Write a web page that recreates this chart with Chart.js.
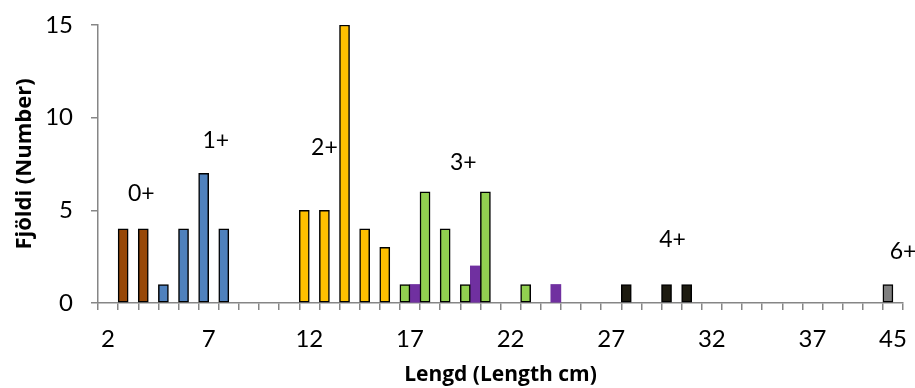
<!DOCTYPE html>
<html>
<head>
<meta charset="utf-8">
<script src="https://cdn.jsdelivr.net/npm/chart.js@4/dist/chart.umd.min.js"></script>
<style>
  body { margin: 0; background: #fff; }
  canvas { display: block; }
</style>
</head>
<body>
<canvas id="chart" width="915" height="388"></canvas>
<script>
// lengd (cm) - categories on the x axis
const lengths = ['2', '3', '4', '5', '6', '7', '8', '9', '10', '11', '12', '13', '14', '15', '16', '17',
    '18', '19', '20', '21', '22', '23', '24', '25', '26', '27', '28', '29', '30', '31', '32', '33',
    '34', '35', '36', '37', '38', '39', '40', '45'];

// [length, count] per age group
const age0 = [['3', 4], ['4', 4]];
const age1 = [['5', 1], ['6', 4], ['7', 7], ['8', 4]];
const age2 = [['12', 5], ['13', 5], ['14', 15], ['15', 4], ['16', 3]];
const age3 = [['17', 1], ['18', 6], ['19', 4], ['20', 1], ['21', 6], ['23', 1]];
const age4 = [['28', 1], ['30', 1], ['31', 1]];
const age6 = [['45', 1]];
const otherFish = [['17', 1], ['20', 2], ['24', 1]];

const yTicks = [0, 5, 10, 15];

// age labels written over the bars (category index, count)
const ageLabels = [
    { text: '0+', at: 1.65, y: 5.9 },
    { text: '1+', at: 5.35, y: 8.75 },
    { text: '2+', at: 10.75, y: 8.4 },
    { text: '3+', at: 17.65, y: 7.55 },
    { text: '4+', at: 28.05, y: 3.4 },
    { text: '6+', at: 39.5, y: 2.8 },
];

const FONT = 'Lato, "Open Sans", sans-serif';
const TITLE_FONT = '"Open Sans", Lato, sans-serif';

function toPoints(pairs) {
    return pairs.map(([x, y]) => ({ x: x, y: y }));
}

function ageSet(pairs, color) {
    return {
        data: toPoints(pairs),
        backgroundColor: color,
        borderColor: '#000',
        borderWidth: 1.5,
        borderSkipped: false,
        stack: 'age',
    };
}

const labelPlugin = {
    id: 'ageLabels',
    afterDatasetsDraw(chart) {
        const { ctx, scales: { x, y } } = chart;
        ctx.save();
        ctx.font = '23px ' + FONT;
        ctx.fillStyle = '#000';
        ctx.textAlign = 'center';
        ctx.textBaseline = 'middle';
        ageLabels.forEach((l) => {
            ctx.fillText(l.text, x.getPixelForValue(l.at), y.getPixelForValue(l.y));
        });
        ctx.restore();
    },
};

new Chart(document.getElementById('chart'), {
    type: 'bar',
    data: {
        labels: lengths,
        datasets: [
            ageSet(age0, '#984807'),
            ageSet(age1, '#4F81BD'),
            ageSet(age2, '#FFC000'),
            ageSet(age3, '#92D050'),
            ageSet(age4, '#1D1B10'),
            ageSet(age6, '#7F7F7F'),
            {
                data: toPoints(otherFish),
                backgroundColor: '#7030A0',
                borderWidth: 0,
                stack: 'other',
            },
        ],
    },
    options: {
        responsive: false,
        animation: false,
        datasets: {
            bar: { categoryPercentage: 1, barPercentage: 1 },
        },
        layout: {
            padding: { top: 25, right: 12, left: 0, bottom: 0 },
        },
        plugins: {
            legend: { display: false },
            tooltip: { enabled: false },
        },
        scales: {
            x: {
                offset: true,
                afterFit: (scale) => {
                    scale.height = 85;
                    scale.paddingLeft = 0;
                    scale.paddingRight = 0;
                },
                border: { color: '#868686', width: 1.5 },
                grid: {
                    offset: true,
                    drawOnChartArea: false,
                    color: '#868686',
                    lineWidth: 1.5,
                    tickLength: 7,
                },
                ticks: {
                    autoSkip: false,
                    maxRotation: 0,
                    padding: 15,
                    color: '#000',
                    font: { family: FONT, size: 24 },
                    callback: function (value, index) {
                        return index % 5 === 0 || index === lengths.length - 1 ? this.getLabelForValue(value) : '';
                    },
                },
                title: {
                    display: true,
                    text: 'Lengd (Length cm)',
                    color: '#000',
                    font: { family: TITLE_FONT, size: 21, weight: 'bold' },
                    padding: { top: 0, bottom: 0 },
                },
            },
            y: {
                stacked: true,
                min: 0,
                max: 15,
                afterFit: (scale) => {
                    scale.width = 98;
                    scale.paddingTop = 0;
                    scale.paddingBottom = 0;
                },
                afterBuildTicks: (scale) => { scale.ticks = yTicks.map((v) => ({ value: v })); },
                border: { color: '#868686', width: 1.5 },
                grid: {
                    drawOnChartArea: false,
                    color: '#868686',
                    lineWidth: 1.5,
                    tickLength: 7,
                },
                ticks: {
                    padding: 18,
                    color: '#000',
                    font: { family: FONT, size: 24 },
                },
                title: {
                    display: true,
                    text: 'Fjöldi (Number)',
                    color: '#000',
                    font: { family: TITLE_FONT, size: 22, weight: 'bold' },
                    padding: { top: 12, bottom: 0 },
                },
            },
        },
    },
    plugins: [labelPlugin],
});
</script>
</body>
</html>
